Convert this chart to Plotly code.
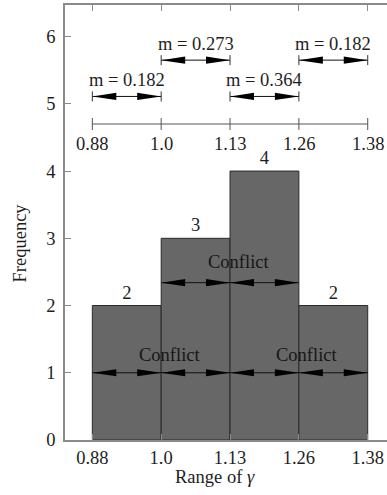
import plotly.graph_objects as go

# ---- data ----
edge_labels = ["0.88", "1.0", "1.13", "1.26", "1.38"]
counts = [2, 3, 4, 2]
m_labels = ["m = 0.182", "m = 0.273", "m = 0.364", "m = 0.182"]
m_levels = [5.11, 5.65, 5.11, 5.65]
conflict_bins = [0, 1, 2, 3, 1, 2]
conflict_levels = [1.0, 1.0, 1.0, 1.0, 2.34, 2.34]
conflict_text_edges = [1, 3, 2]
conflict_text_levels = [1.26, 1.26, 2.65]
scale_level = 4.70

FONT = "Liberation Serif"
FS = 18.5
TXT = "#1e1e1e"
AX = "#8a8a8a"

# geometry helpers (in axis units)
XR = [-0.397, 4.28]
YR = [0, 6.47]
PX_X = 322 / (XR[1] - XR[0])
PX_Y = 435 / (YR[1] - YR[0])
HEAD_L = 24 / PX_X
HEAD_H = 3.6 / PX_Y
END_H = 5 / PX_Y
TICK_H = 6 / PX_Y

fig = go.Figure()
centers = [i + 0.5 for i in range(len(counts))]
fig.add_bar(x=centers, y=counts, width=1,
            marker=dict(color="#676767", line=dict(color="#2a2a2a", width=1)),
            text=[str(c) for c in counts], textposition="outside",
            textfont=dict(family=FONT, size=FS, color=TXT),
            cliponaxis=False, showlegend=False, hoverinfo="skip")

shapes = []
annotations = []


def double_arrow(x0, x1, y, ends):
    shapes.append(dict(type="line", x0=x0, x1=x1, y0=y, y1=y,
                       line=dict(color="#111111", width=1)))
    shapes.append(dict(type="path", line=dict(width=0), fillcolor="#000000",
                       path=f"M {x0},{y} L {x0 + HEAD_L},{y + HEAD_H} L {x0 + HEAD_L},{y - HEAD_H} Z"))
    shapes.append(dict(type="path", line=dict(width=0), fillcolor="#000000",
                       path=f"M {x1},{y} L {x1 - HEAD_L},{y + HEAD_H} L {x1 - HEAD_L},{y - HEAD_H} Z"))
    if ends:
        for xe in (x0, x1):
            shapes.append(dict(type="line", x0=xe, x1=xe, y0=y - END_H, y1=y + END_H,
                               line=dict(color="#333333", width=1)))


# m arrows (upper part)
for i, (lab, lev) in enumerate(zip(m_labels, m_levels)):
    double_arrow(i, i + 1, lev, True)
    annotations.append(dict(x=i + 0.5, y=lev, text=lab, showarrow=False, yshift=16,
                            xanchor="center", yanchor="middle",
                            font=dict(family=FONT, size=FS, color=TXT)))

# conflict arrows inside bars
for b, lev in zip(conflict_bins, conflict_levels):
    double_arrow(b, b + 1, lev, False)
for e, lev in zip(conflict_text_edges, conflict_text_levels):
    annotations.append(dict(x=e, y=lev, text="Conflict", showarrow=False, xshift=8,
                            xanchor="center", yanchor="middle",
                            font=dict(family=FONT, size=FS, color="#161616")))

# middle scale line
shapes.append(dict(type="line", x0=0, x1=len(edge_labels) - 1, y0=scale_level, y1=scale_level,
                   line=dict(color="#555555", width=1)))
for i, lab in enumerate(edge_labels):
    shapes.append(dict(type="line", x0=i, x1=i, y0=scale_level - TICK_H, y1=scale_level + TICK_H,
                       line=dict(color="#555555", width=1)))
    annotations.append(dict(x=i, y=scale_level, text=lab, showarrow=False, yshift=-20,
                            xanchor="center", yanchor="middle",
                            font=dict(family=FONT, size=FS, color=TXT)))

# axis titles
annotations.append(dict(xref="paper", yref="paper", x=-0.1398, y=0.454, text="Frequency",
                        textangle=-90, showarrow=False, xanchor="center", yanchor="middle",
                        font=dict(family=FONT, size=FS, color=TXT)))
annotations.append(dict(xref="paper", yref="paper", x=0.466, y=-0.0844, text="Range of <i>γ</i>",
                        showarrow=False, xanchor="center", yanchor="middle",
                        font=dict(family=FONT, size=FS, color=TXT)))

fig.update_layout(
    width=387, height=495,
    margin=dict(l=65, r=0, t=5, b=55),
    plot_bgcolor="white", paper_bgcolor="white",
    shapes=shapes, annotations=annotations,
    xaxis=dict(range=XR, tickvals=list(range(len(edge_labels))), ticktext=edge_labels,
               ticks="inside", ticklen=6, tickcolor=AX, showline=True, linecolor=AX,
               linewidth=1.5, mirror="ticks", showgrid=False, zeroline=False,
               tickfont=dict(family=FONT, size=FS, color=TXT)),
    yaxis=dict(range=YR, tickvals=list(range(7)), ticks="inside", ticklen=6, tickcolor=AX,
               showline=True, linecolor=AX, linewidth=1.5, showgrid=False, zeroline=False,
               ticklabelstandoff=4,
               tickfont=dict(family=FONT, size=FS, color=TXT)),
)

fig.write_html("out.html")
